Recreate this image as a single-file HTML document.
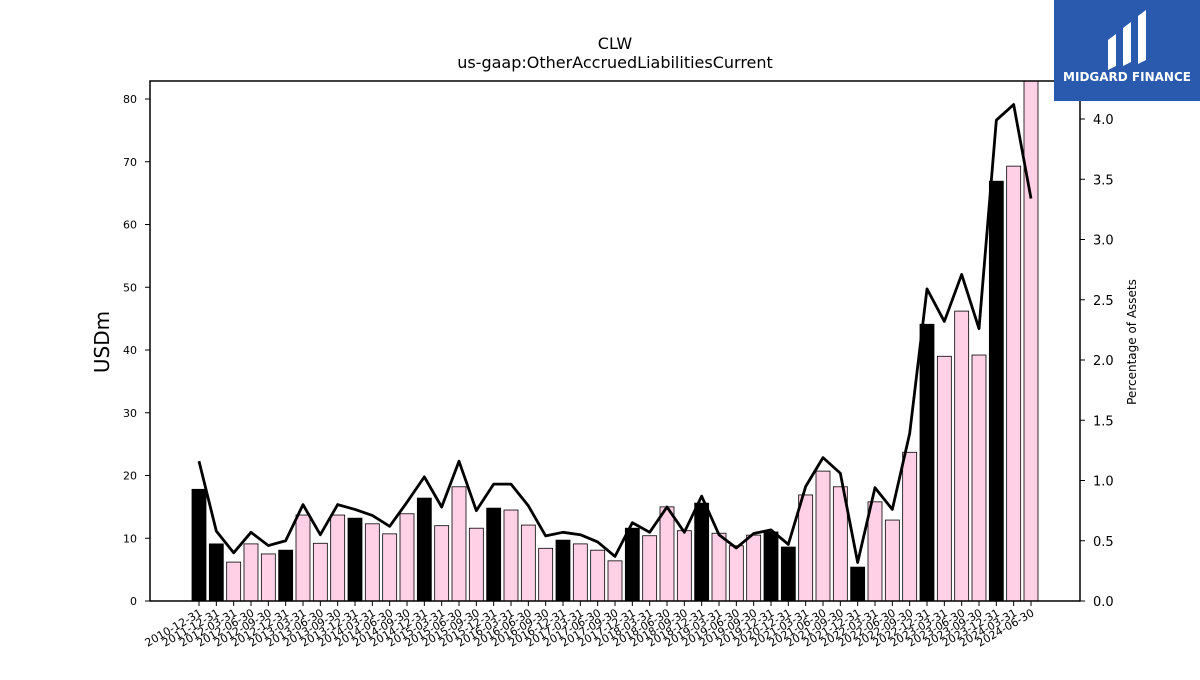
<!DOCTYPE html>
<html><head><meta charset="utf-8"><style>
body{margin:0;background:#fff;width:1200px;height:675px;overflow:hidden;font-family:"Liberation Sans","DejaVu Sans",sans-serif}
</style></head><body>
<svg id="chart" width="1200" height="675" xmlns="http://www.w3.org/2000/svg" font-family="DejaVu Sans, Liberation Sans, sans-serif">
<text x="615" y="49" font-size="16" text-anchor="middle">CLW</text>
<text x="615" y="68" font-size="16" text-anchor="middle">us-gaap:OtherAccruedLiabilitiesCurrent</text>
<g id="bars"></g>
<g id="line"></g>
<g id="axes"></g>
<rect x="150" y="81" width="930" height="520" fill="none" stroke="#000" stroke-width="1.5"/>
<text transform="translate(109,342) rotate(-90)" font-size="20" text-anchor="middle">USDm</text>
<text transform="translate(1136,342) rotate(-90)" font-size="12" text-anchor="middle">Percentage of Assets</text>
<g>
<rect x="1054" y="0" width="146" height="101" fill="#2a5aad"/>
<path d="M1108 40 L1116 34 L1116 66 L1108 70 Z M1123 28 L1131 22 L1131 62 L1123 66 Z M1138 16 L1146 10 L1146 60 L1138 64 Z" fill="#fff"/>
<text x="1127" y="81" font-size="12" font-weight="bold" fill="#fff" text-anchor="middle">MIDGARD FINANCE</text>
</g>
</svg>
<script>
const labels=["2010-12-31","2011-12-31","2012-03-31","2012-06-30","2012-09-30","2012-12-31","2013-03-31","2013-06-30","2013-09-30","2013-12-31","2014-03-31","2014-06-30","2014-09-30","2014-12-31","2015-03-31","2015-06-30","2015-09-30","2015-12-31","2016-03-31","2016-06-30","2016-09-30","2016-12-31","2017-03-31","2017-06-30","2017-09-30","2017-12-31","2018-03-31","2018-06-30","2018-09-30","2018-12-31","2019-03-31","2019-06-30","2019-09-30","2019-12-31","2020-12-31","2021-03-31","2021-06-30","2021-09-30","2021-12-31","2022-03-31","2022-06-30","2022-09-30","2022-12-31","2023-03-31","2023-06-30","2023-09-30","2023-12-31","2024-03-31","2024-06-30"];
const usdm=[17.8,9.1,6.2,9.1,7.5,8.1,13.7,9.2,13.7,13.2,12.3,10.7,13.9,16.4,12.0,18.2,11.6,14.8,14.5,12.1,8.4,9.7,9.1,8.1,6.4,11.6,10.4,15.0,11.2,15.6,10.8,8.8,10.5,11.0,8.6,16.9,20.7,18.2,5.4,15.8,12.9,23.7,44.1,39.0,46.2,39.2,66.9,69.3,85];
const pct=[1.16,0.58,0.40,0.57,0.46,0.50,0.80,0.55,0.80,0.76,0.71,0.62,0.82,1.03,0.78,1.16,0.75,0.97,0.97,0.79,0.54,0.57,0.55,0.49,0.37,0.65,0.57,0.78,0.57,0.87,0.55,0.44,0.56,0.59,0.47,0.95,1.19,1.06,0.32,0.94,0.76,1.39,2.59,2.32,2.71,2.26,3.99,4.12,3.34];
const leftTicks=[0,10,20,30,40,50,60,70,80];
const rightTicks=[0.0,0.5,1.0,1.5,2.0,2.5,3.0,3.5,4.0];
const NS="http://www.w3.org/2000/svg";
const x=i=>199+i*(1031-199)/(labels.length-1);
const yL=v=>601-v*6.275;
const yR=v=>601-v*120.5;
const mk=(t,a,p)=>{const e=document.createElementNS(NS,t);for(const k in a)e.setAttribute(k,a[k]);p.appendChild(e);return e;};
const gb=document.getElementById('bars'),gl=document.getElementById('line'),ga=document.getElementById('axes');
const bw=14;
usdm.forEach((v,i)=>{
 const top=Math.max(yL(v),81);
 const annual=labels[i].endsWith('12-31');
 const r=mk('rect',{x:x(i)-bw/2,y:top,width:bw,height:601-top,fill:annual?'#000':'#ffd0e6',stroke:'#000','stroke-width':0.8},gb);
 
 
});
const pl=mk('polyline',{points:pct.map((v,i)=>x(i)+','+yR(v)).join(' '),fill:'none',stroke:'#000','stroke-width':2.8,'stroke-linejoin':'round'},gl);


leftTicks.forEach(v=>{
 mk('line',{x1:145,x2:150,y1:yL(v),y2:yL(v),stroke:'#000'},ga);
 const t=mk('text',{x:137,y:yL(v)+4,'font-size':11,'text-anchor':'end'},ga);t.textContent=v;
 
 
});
rightTicks.forEach(v=>{
 mk('line',{x1:1080,x2:1085,y1:yR(v),y2:yR(v),stroke:'#000'},ga);
 const t=mk('text',{x:1093,y:yR(v)+5,'font-size':13},ga);t.textContent=v.toFixed(1);
 
 
});
labels.forEach((l,i)=>{
 mk('line',{x1:x(i),x2:x(i),y1:601,y2:606,stroke:'#000'},ga);
 const t=mk('text',{transform:`translate(${x(i)+4},${615}) rotate(-30)`,'font-size':11,'text-anchor':'end'},ga);t.textContent=l;
 
 
});
</script>
</body></html>
